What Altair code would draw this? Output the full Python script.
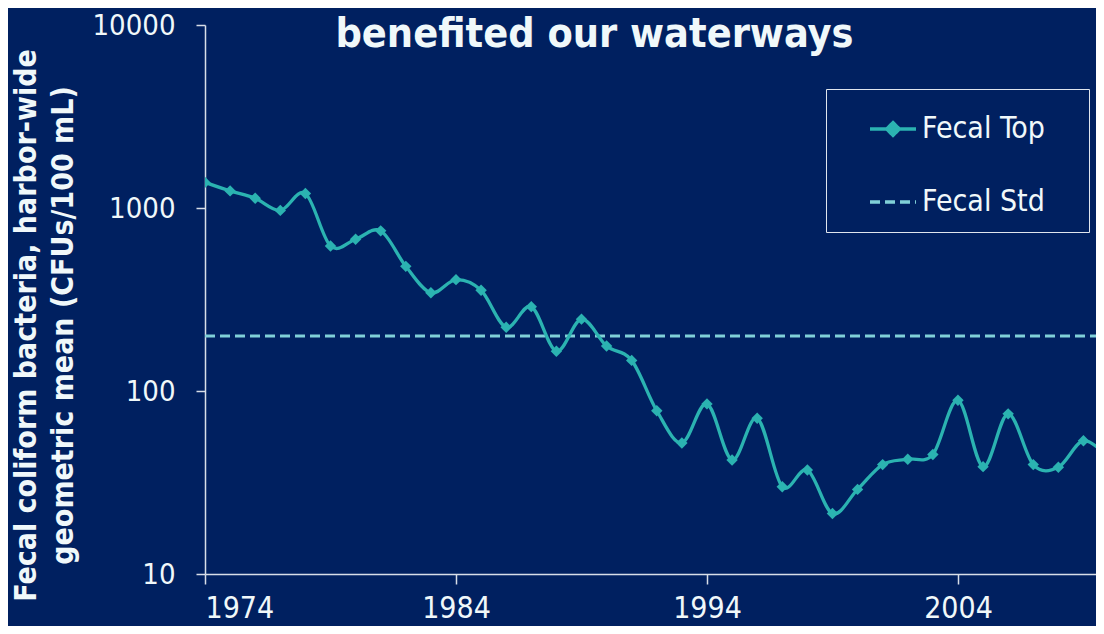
import altair as alt
import pandas as pd

# ---- data ----
years = list(range(1974, 2011))
fecal_top = [1380, 1240, 1130, 970, 1200, 620, 675, 750, 480, 344,
             406, 355, 223, 289, 165, 247, 176, 147, 78, 52,
             85, 42, 71, 30, 37, 21.4, 29, 39.6, 42.4, 45,
             89, 38.6, 75, 39.6, 38.3, 53.5, 43]
std_years = [1974, 2010]
std_values = [200, 200]
series_names = ["Fecal Top", "Fecal Std"]
x_ticks = [1974, 1984, 1994, 2004]
y_ticks = [10, 100, 1000, 10000]
y_title = ["Fecal coliform bacteria, harbor-wide", "geometric mean (CFUs/100 mL)"]
chart_title = "benefited our waterways"

# ---- styling ----
BG = "#002060"
TOP_COLOR = "#2bb3b1"
STD_COLOR = "#80d0d8"
TEXT = "#f0f8fa"
AXIS = "#d8dee8"
FONT = "DejaVu Sans Condensed, DejaVu Sans"
TOP_PATH = "M-1,0H1M0,-0.28L0.28,0L0,0.28L-0.28,0Z"
STD_PATH = "M-1,0H1"

df_top = pd.DataFrame({"year": years, "value": fecal_top, "series": "Fecal Top"})
df_std = pd.DataFrame({"year": std_years, "value": std_values, "series": "Fecal Std"})
df_leg = pd.DataFrame({"series": series_names})

x = alt.X("year:Q",
          scale=alt.Scale(domain=[1974, 2009.5], nice=False, zero=False),
          axis=alt.Axis(values=x_ticks, format="d", title=None, tickSize=10,
                        labelPadding=33, labelBaseline="alphabetic", labelFontSize=30))
y = alt.Y("value:Q",
          scale=alt.Scale(type="log", domain=[10, 10000], nice=False),
          axis=alt.Axis(values=y_ticks, format="d", title=y_title, tickSize=9,
                        labelPadding=21, labelFontSize=29,
                        titleFontSize=30, titleFontWeight="bold", titleLineHeight=37,
                        titleAngle=270, titleAlign="center", titleBaseline="alphabetic",
                        titleX=-170, titleY=300))

std_line = alt.Chart(df_std).mark_line(
    color=STD_COLOR, strokeWidth=3, strokeDash=[10, 5], clip=True
).encode(x=x, y=y)

top_line = alt.Chart(df_top).mark_line(
    color=TOP_COLOR, strokeWidth=3.3, interpolate="cardinal", clip=True
).encode(x=x, y=y)

top_pts = alt.Chart(df_top).mark_point(
    shape="diamond", filled=True, size=130, color=TOP_COLOR, opacity=1, clip=True
).encode(x=x, y=y)

# trailing blank pattern keeps the legend box as wide as in the reference
leg = alt.Legend(title=None, labelLimit=0, labelExpr="datum.label + ' \u2800'")
legend_carrier = alt.Chart(df_leg).transform_filter("false").mark_point(
    filled=False, fill=TOP_COLOR, opacity=1, strokeWidth=3.3
).encode(
    color=alt.Color("series:N", scale=alt.Scale(domain=series_names, range=[TOP_COLOR, STD_COLOR]), legend=leg),
    shape=alt.Shape("series:N", scale=alt.Scale(domain=series_names, range=[TOP_PATH, STD_PATH]), legend=leg),
    strokeDash=alt.StrokeDash("series:N", scale=alt.Scale(domain=series_names, range=[[1, 0], [10, 5]]), legend=leg),
)

chart = alt.layer(std_line, top_line, top_pts, legend_carrier).properties(
    width=891, height=549,
    padding={"left": 197, "top": 17, "right": 0, "bottom": 52},
    autosize=alt.AutoSizeParams(type="none"),
    background=BG,
    title=alt.TitleParams(text=chart_title, font=FONT, fontSize=41, fontWeight="bold",
                          color=TEXT, anchor="middle", frame="group", dx=-56,
                          offset=0, dy=77, baseline="alphabetic"),
).configure_view(stroke=None).configure_axis(
    domainColor=AXIS, tickColor=AXIS, domainWidth=1.5, tickWidth=1.5, grid=False,
    labelColor=TEXT, titleColor=TEXT, labelFont=FONT, titleFont=FONT,
).configure_legend(
    orient="none", legendX=621, legendY=64, padding=15, rowPadding=33,
    strokeColor="#e0e6ee", fillColor=BG, labelFontSize=30, labelColor=TEXT,
    labelFont=FONT, symbolSize=2116, symbolStrokeWidth=3.3, labelOffset=4,
    symbolOffset=27, symbolOpacity=1,
)

chart.save("out.html", embed_options={"renderer": "svg", "actions": False})
